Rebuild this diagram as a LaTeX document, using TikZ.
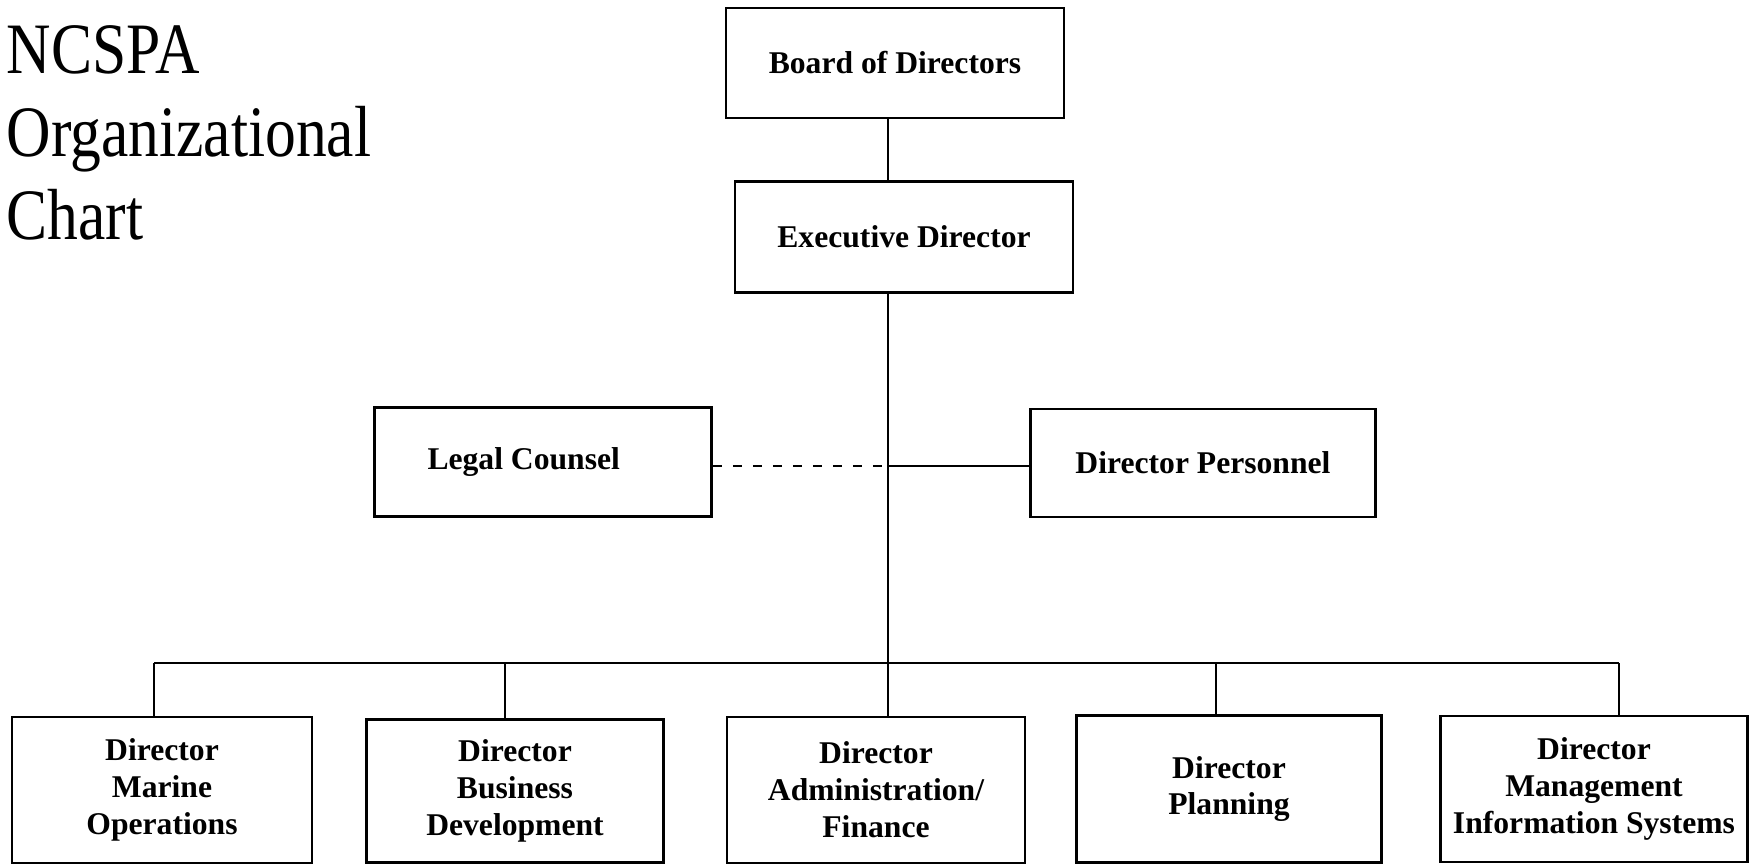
\documentclass[tikz,border=0pt]{standalone}
\usepackage{fontspec}
\setmainfont{Liberation Serif}
\newfontfamily\titlefont[FakeStretch=0.85]{Liberation Serif}

\begin{document}
\begin{tikzpicture}[x=0.1mm,y=-0.1mm,
  office/.style={draw,line width=0.8pt,align=center,inner sep=0pt,
    font=\bfseries\fontsize{9}{10.5}\selectfont},
  link/.style={line width=0.8pt}]
\useasboundingbox (0,0) rectangle (1752,865);

\node[anchor=north west,inner sep=0pt,align=left,
  font=\titlefont\fontsize{20.6}{23.6}\selectfont] (title) at (6,25) {NCSPA\\Organizational\\Chart};

\node[office,minimum width=33.8mm,minimum height=11mm] (board) at (895,63) {Board of Directors};
\node[office,minimum width=33.8mm,minimum height=11.1mm] (exec) at (904,237) {Executive Director};

\node[office,inner xsep=5.3mm,text width=23.1mm,align=flush left,minimum height=10.9mm] (legal) at (543,462) {Legal Counsel};
\node[office,minimum width=34.5mm,minimum height=10.8mm] (pers) at (1203,463) {Director Personnel};

\node[office,minimum width=30mm,minimum height=14.6mm] (marine) at (162,790) {Director\\Marine\\Operations};
\node[office,minimum width=29.7mm,minimum height=14.3mm] (business) at (515,791) {Director\\Business\\Development};
\node[office,minimum width=29.8mm,minimum height=14.6mm] (admin) at (876,790) {Director\\Administration/\\Finance};
\node[office,minimum width=30.5mm,minimum height=14.7mm] (planning) at (1229,789) {Director\\Planning};
\node[office,minimum width=30.7mm,minimum height=14.6mm] (mis) at (1594,789) {Director\\Management\\Information Systems};

% trunk and branch points
\coordinate (tee) at (888,466);
\coordinate (bus) at (888,663);
\coordinate (b1) at (154,663);
\coordinate (b2) at (505,663);
\coordinate (b4) at (1216,663);
\coordinate (b5) at (1619,663);

\draw[link] (board.south -| bus) -- (exec.north -| bus);
\draw[link] (exec.south -| bus) -- (bus);
\draw[link,dash pattern=on 0.9mm off 1.1mm] (legal.east |- tee) -- (tee);
\draw[link] (tee) -- (tee -| pers.west);

\draw[link] (b1) -- (b5);
\draw[link] (b1) -- (b1 |- marine.north);
\draw[link] (b2) -- (b2 |- business.north);
\draw[link] (bus) -- (bus |- admin.north);
\draw[link] (b4) -- (b4 |- planning.north);
\draw[link] (b5) -- (b5 |- mis.north);
\end{tikzpicture}
\end{document}
